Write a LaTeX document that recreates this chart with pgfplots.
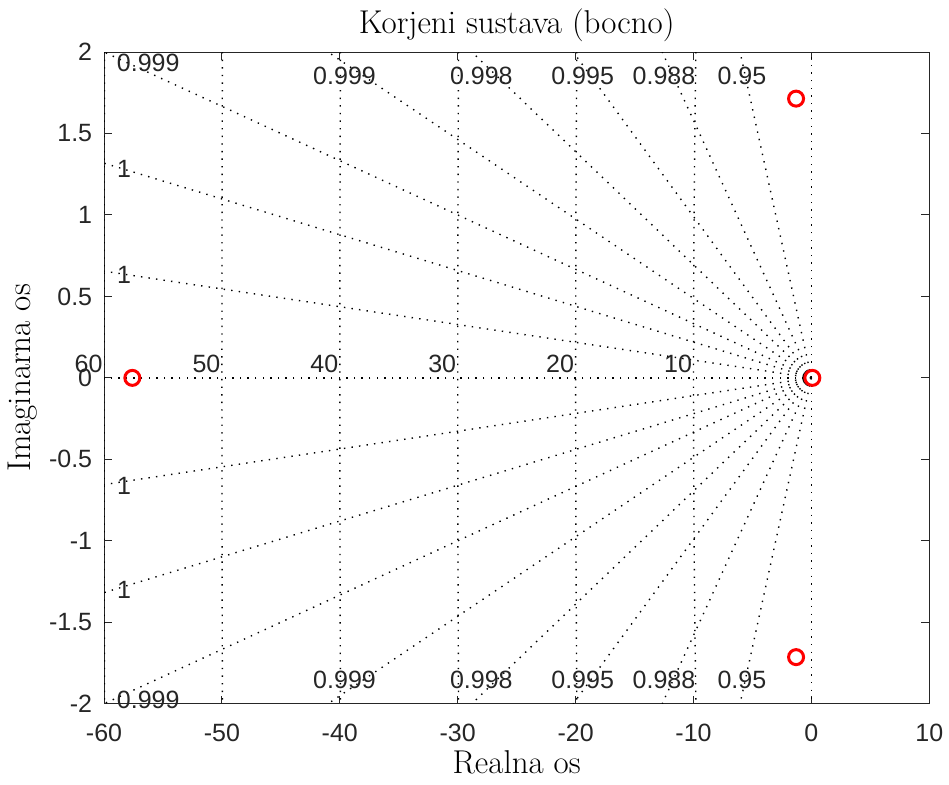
\documentclass[border=0pt]{standalone}
\usepackage{fontspec}
\usepackage{pgfplots}
\pgfplotsset{compat=1.18}
\newfontfamily\arial{Liberation Sans}
\pgfplotsset{sgrid/.style={black, line width=0.7pt, dash pattern=on 0.7pt off 3.1pt, forget plot}}
\begin{document}
\begin{tikzpicture}
\begin{axis}[
  at={(0,0)}, anchor=south west,
  scale only axis, width=412.5pt, height=325.75pt,
  xmin=-60, xmax=10, ymin=-2, ymax=2,
  xtick={-60,-50,-40,-30,-20,-10,0,10},
  xticklabels={-60,-50,-40,-30,-20,-10,0,10},
  ytick={-2,-1.5,-1,-0.5,0,0.5,1,1.5,2},
  yticklabels={-2,-1.5,-1,-0.5,0,0.5,1,1.5,2},
  tick label style={font=\arial\fontsize{12.5}{15}\selectfont, text=black!85, inner sep=0pt},
  xticklabel style={anchor=north, yshift=-9.75pt},
  yticklabel style={anchor=east, xshift=-5.75pt},
  tick align=inside, major tick length=4pt,
  axis line style={black!85, line width=0.5pt},
  every tick/.style={black!85, line width=0.5pt},
  every axis title shift=0pt,
  title={Korjeni sustava (bocno)},
  title style={at={(axis description cs:0.5,1.02916)}, anchor=base, inner sep=0pt, font=\fontsize{16.5}{19}\selectfont},
  xlabel={Realna os},
  xlabel style={at={(axis description cs:0.5,-0.10668)}, anchor=base, inner sep=0pt, font=\fontsize{16.5}{19}\selectfont},
  ylabel={Imaginarna os},
  ylabel style={at={(axis description cs:-0.0891,0.5)}, anchor=base, inner sep=0pt, font=\fontsize{16.5}{19}\selectfont},
  clip mode=individual,
]
% natural frequency circles
\addplot[sgrid] coordinates {(-9.798,2) (-9.887,1.5) (-9.950,1) (-9.987,0.5) (-10,0) (-9.987,-0.5) (-9.950,-1) (-9.887,-1.5) (-9.798,-2)};
\addplot[sgrid] coordinates {(-19.900,2) (-19.975,1) (-20,0) (-19.975,-1) (-19.900,-2)};
\addplot[sgrid] coordinates {(-29.933,2) (-29.983,1) (-30,0) (-29.983,-1) (-29.933,-2)};
\addplot[sgrid] coordinates {(-39.950,2) (-39.987,1) (-40,0) (-39.987,-1) (-39.950,-2)};
\addplot[sgrid] coordinates {(-49.960,2) (-49.990,1) (-50,0) (-49.990,-1) (-49.960,-2)};
\addplot[sgrid] coordinates {(-59.967,2) (-59.992,1) (-60,0) (-59.992,-1) (-59.967,-2)};
% damping rays (upper)
\addplot[sgrid] coordinates {(0,0) (0,2)};
\addplot[sgrid] coordinates {(0,0) (-6.05,2)};
\addplot[sgrid] coordinates {(0,0) (-12.65,2)};
\addplot[sgrid] coordinates {(0,0) (-20.2,2)};
\addplot[sgrid] coordinates {(0,0) (-28.8,2)};
\addplot[sgrid] coordinates {(0,0) (-41.0,2)};
\addplot[sgrid] coordinates {(0,0) (-60,2.0)};
\addplot[sgrid] coordinates {(0,0) (-60,1.318)};
\addplot[sgrid] coordinates {(0,0) (-60,0.655)};
\addplot[sgrid] coordinates {(0,0) (-60,0)};
% damping rays (lower)
\addplot[sgrid] coordinates {(0,0) (0,-2)};
\addplot[sgrid] coordinates {(0,0) (-6.05,-2)};
\addplot[sgrid] coordinates {(0,0) (-12.65,-2)};
\addplot[sgrid] coordinates {(0,0) (-20.2,-2)};
\addplot[sgrid] coordinates {(0,0) (-28.8,-2)};
\addplot[sgrid] coordinates {(0,0) (-41.0,-2)};
\addplot[sgrid] coordinates {(0,0) (-60,-2.0)};
\addplot[sgrid] coordinates {(0,0) (-60,-1.318)};
\addplot[sgrid] coordinates {(0,0) (-60,-0.655)};
% labels
\begin{scope}[every node/.style={font=\arial\fontsize{12.5}{15}\selectfont, text=black!85, inner sep=0pt}]
\node at (axis cs:-39.6,1.853) {0.999};
\node at (axis cs:-28.0,1.853) {0.998};
\node at (axis cs:-19.4,1.853) {0.995};
\node at (axis cs:-12.5,1.853) {0.988};
\node at (axis cs:-5.9,1.853) {0.95};
\node at (axis cs:-39.6,-1.856) {0.999};
\node at (axis cs:-28.0,-1.856) {0.998};
\node at (axis cs:-19.4,-1.856) {0.995};
\node at (axis cs:-12.5,-1.856) {0.988};
\node at (axis cs:-5.9,-1.856) {0.95};
\node at (axis cs:-56.25,1.936) {0.999};
\node at (axis cs:-58.3,1.28) {1};
\node at (axis cs:-58.3,0.634) {1};
\node at (axis cs:-58.3,-0.66) {1};
\node at (axis cs:-58.3,-1.30) {1};
\node at (axis cs:-56.25,-1.975) {0.999};
\node[anchor=south east] at (axis cs:-60.1,0.031) {60};
\node[anchor=south east] at (axis cs:-50.1,0.031) {50};
\node[anchor=south east] at (axis cs:-40.1,0.031) {40};
\node[anchor=south east] at (axis cs:-30.1,0.031) {30};
\node[anchor=south east] at (axis cs:-20.1,0.031) {20};
\node[anchor=south east] at (axis cs:-10.1,0.031) {10};
\end{scope}
% poles
\addplot[only marks, mark=o, mark size=3.75pt, red, line width=1.5pt] coordinates {(-1.30,1.714) (-1.30,-1.714) (-57.6,0) (0.08,0)};
\end{axis}
\pgfresetboundingbox
\path[use as bounding box] (-52pt,-40.25pt) rectangle (422.35pt,351.75pt);
\end{tikzpicture}
\end{document}
